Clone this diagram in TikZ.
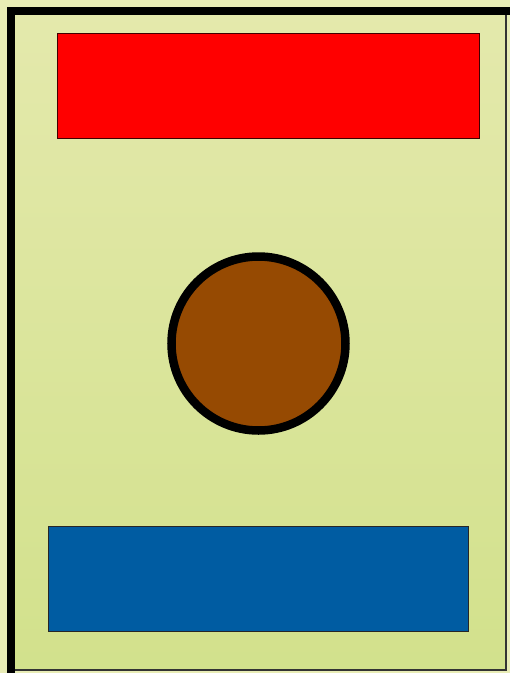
\documentclass[tikz,border=0pt]{standalone}
\usepackage{tikz}
\definecolor{paper}{RGB}{232,236,182}
\definecolor{cardtop}{RGB}{228,233,172}
\definecolor{cardbottom}{RGB}{210,225,140}
\definecolor{titlered}{RGB}{255,0,0}
\definecolor{footblue}{RGB}{0,92,162}
\definecolor{discbrown}{RGB}{150,74,2}

\begin{document}
\begin{tikzpicture}[x=1pt,y=-1pt]
 \useasboundingbox (0,0) rectangle (510,673);
 \fill[paper] (0,0) rectangle (510,673);
 % card face
 \shade[top color=cardtop,bottom color=cardbottom] (11,11) rectangle (506,670);
 \draw[line width=1.6pt,black!80] (506,11) -- (506,670) -- (11,670);
 \draw[line width=8pt,line cap=rect] (11,670) -- (11,11) -- (506,11);
 % panels
 \draw[fill=titlered,draw=black!75!red,line width=1pt] (57,33) rectangle (479,138);
 \draw[fill=footblue,draw=black!85,line width=1pt] (48,526) rectangle (468,631);
 \draw[fill=discbrown,line width=8.5pt] (258.5,343.5) circle (87);
\end{tikzpicture}
\end{document}
